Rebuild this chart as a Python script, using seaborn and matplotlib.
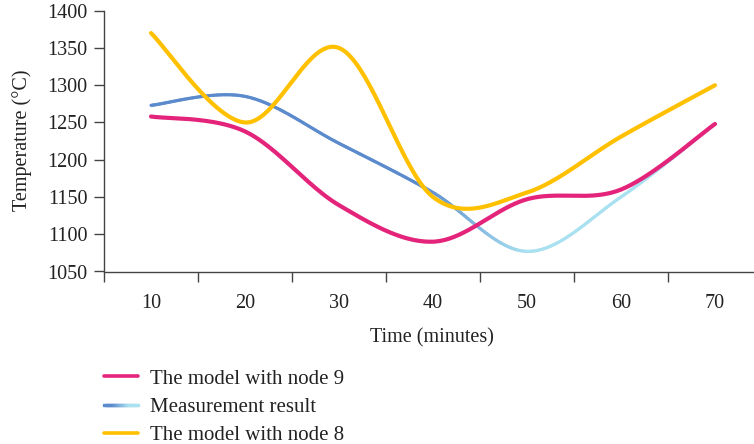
import numpy as np
import pandas as pd
import seaborn as sns
import matplotlib
matplotlib.use("Agg")
import matplotlib.pyplot as plt
from matplotlib.collections import LineCollection
from matplotlib.legend_handler import HandlerLineCollection
from matplotlib.lines import Line2D
from matplotlib.colors import to_rgb

# ---- data ----
times = ["10", "20", "30", "40", "50", "60", "70"]
node9 = [1258, 1238, 1139, 1090, 1147, 1160, 1248]
measured = [1273, 1285, 1222, 1156, 1077, 1150, 1248]
node8 = [1370, 1250, 1350, 1150, 1156, 1231, 1300]
y_ticks = [1050, 1100, 1150, 1200, 1250, 1300, 1350, 1400]

C_MAG = "#E4237A"
C_BLUE = "#5B8BCD"
C_CYAN = "#A9E1F0"
C_YEL = "#FFC000"
TXT = "#222222"
FS = 14.5

sns.set_theme(style="ticks")
plt.rcParams["font.family"] = ["Liberation Serif", "DejaVu Serif"]


def smooth(yv, n=40):
    x = np.arange(len(yv), dtype=float)
    y = np.asarray(yv, dtype=float)
    P = np.column_stack([x, y])
    Pe = np.vstack([P[0], P, P[-1]])
    out = []
    for i in range(len(P) - 1):
        p0, p1, p2, p3 = Pe[i], Pe[i + 1], Pe[i + 2], Pe[i + 3]
        c1 = p1 + (p2 - p0) / 6.0
        c2 = p2 - (p3 - p1) / 6.0
        t = np.linspace(0, 1, n, endpoint=(i == len(P) - 2))[:, None]
        seg = ((1 - t) ** 3) * p1 + 3 * ((1 - t) ** 2) * t * c1 + 3 * (1 - t) * t ** 2 * c2 + t ** 3 * p2
        out.append(seg)
    s = np.vstack(out)
    return s[:, 0], s[:, 1]


fig = plt.figure(figsize=(7.54, 4.44), dpi=100)
AX_L, AX_R, AX_T, AX_B = 104, 762, 10.7, 271.5
ax = fig.add_axes([AX_L / 754, 1 - AX_B / 444, (AX_R - AX_L) / 754, (AX_B - AX_T) / 444])

x9, y9 = smooth(node9)
x8, y8 = smooth(node8)
xm, ym = smooth(measured)

df9 = pd.DataFrame({"x": x9, "y": y9})
df8 = pd.DataFrame({"x": x8, "y": y8})

# measurement gradient line
b = np.array(to_rgb(C_BLUE))
c = np.array(to_rgb(C_CYAN))
pts = np.column_stack([xm, ym]).reshape(-1, 1, 2)
segs = np.concatenate([pts[:-1], pts[1:]], axis=1)
xmid = (xm[:-1] + xm[1:]) / 2
f = np.clip((xmid - 2.9) / (4.0 - 2.9), 0, 1)[:, None]
cols = b * (1 - f) + c * f
lc = LineCollection(segs, colors=cols, linewidths=2.3, capstyle="round", joinstyle="round", zorder=2)
ax.add_collection(lc)

sns.lineplot(data=df8, x="x", y="y", ax=ax, color=C_YEL, lw=3.0, sort=False, zorder=3,
             solid_capstyle="round")
sns.lineplot(data=df9, x="x", y="y", ax=ax, color=C_MAG, lw=3.0, sort=False, zorder=2.5,
             solid_capstyle="round")

ax.set_xlim(-0.5, 6.5)
ax.set_ylim(1050, 1400)
ax.set_yticks(y_ticks)
ax.set_xticks(range(len(times)))
ax.set_xticklabels(times)
ax.set_xticks(np.arange(-0.5, 7.0, 1.0), minor=True)
ax.tick_params(axis="x", which="major", length=0, pad=16, labelsize=FS, colors=TXT)
ax.tick_params(axis="x", which="minor", length=7, width=1, color="#444444", direction="out")
ax.tick_params(axis="y", length=7, width=1, color="#444444", labelsize=FS, labelcolor=TXT, pad=5)
for s in ["top", "right"]:
    ax.spines[s].set_visible(False)
for s in ["left", "bottom"]:
    ax.spines[s].set_color("#444444")
    ax.spines[s].set_linewidth(1)
ax.set_xlabel("Time (minutes)", fontsize=FS, color=TXT)
ax.set_ylabel("Temperature (°C)", fontsize=FS, color=TXT)
ax.xaxis.set_label_coords((432 - AX_L) / (AX_R - AX_L), -(338 - AX_B) / (AX_B - AX_T))
ax.xaxis.label.set_va("center")
ax.yaxis.set_label_coords(-(104 - 22) / (AX_R - AX_L), (AX_B - 140) / (AX_B - AX_T))
ax.yaxis.label.set_va("center")


class GradHandler(HandlerLineCollection):
    def create_artists(self, legend, orig_handle, xdescent, ydescent, width, height, fontsize, trans):
        n = 40
        xs = np.linspace(0, width, n + 1)
        ys = np.full_like(xs, height / 2.0)
        p = np.column_stack([xs, ys]).reshape(-1, 1, 2)
        sg = np.concatenate([p[:-1], p[1:]], axis=1)
        ff = np.clip((np.linspace(0, 1, n) - 0.25) / 0.5, 0, 1)[:, None]
        cc = b * (1 - ff) + c * ff
        coll = LineCollection(sg, colors=cc, linewidths=2.3, transform=trans, capstyle="projecting")
        return [coll]


h9 = Line2D([], [], color=C_MAG, lw=2.6)
hm = LineCollection([], colors=[C_BLUE])
h8 = Line2D([], [], color=C_YEL, lw=2.6)
fig.legend([h9, hm, h8], ["The model with node 9", "Measurement result", "The model with node 8"],
           handler_map={LineCollection: GradHandler()},
           loc="upper left", bbox_to_anchor=(104 / 754, 1 - 369 / 444), frameon=False,
           borderpad=0, borderaxespad=0,
           fontsize=15, handlelength=1.65, handletextpad=0.55, labelspacing=0.42,
           labelcolor=TXT)

fig.savefig("out.png", dpi=100, facecolor="white")
